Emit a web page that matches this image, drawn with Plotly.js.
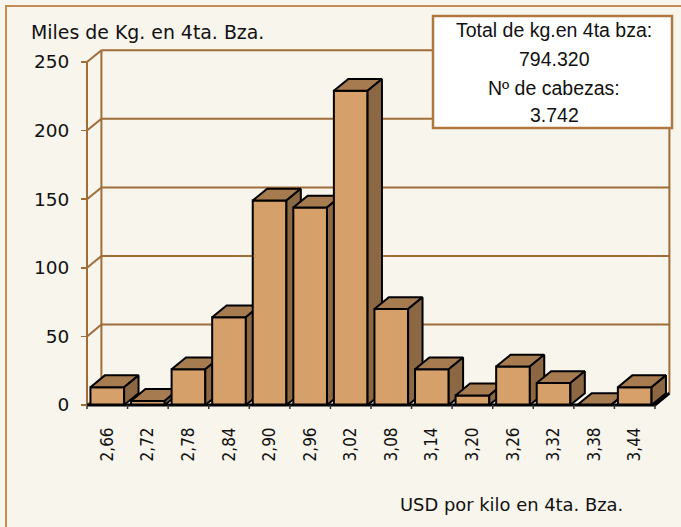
<!DOCTYPE html>
<html><head><meta charset="utf-8">
<script src="https://cdn.plot.ly/plotly-3.0.1.min.js"></script>
<style>html,body{margin:0;padding:0;background:#F8F5EC;} #chart{width:681px;height:527px;}</style>
</head><body><div id="chart"></div>
<script>
// ---- data ----
const categories = ['2,66','2,72','2,78','2,84','2,90','2,96','3,02','3,08','3,14','3,20','3,26','3,32','3,38','3,44'];
const values = [13, 3, 26, 64, 149, 144, 229, 70, 26, 7, 28, 16, 0, 13];
const yTickValues = [0, 50, 100, 150, 200, 250];
const yTitle = 'Miles de Kg. en 4ta. Bza.';
const xTitle = 'USD por kilo en 4ta. Bza.';
const infoLines = ['Total de kg.en 4ta bza:', '794.320', 'Nº de cabezas:', '3.742'];

// ---- geometry ----
const W = 681, H = 527;
const M = {l: 70, r: 1, t: 40, b: 107};
const plotW = W - M.l - M.r, plotH = H - M.t - M.b;
const catPx = 40.57, x0px = 107.3;
const unitPx = 1.372, zeroPx = 405;
const xRange = [(M.l - x0px) / catPx, (W - M.r - x0px) / catPx];
const yRange = [(zeroPx - (H - M.b)) / unitPx, (zeroPx - M.t) / unitPx];
const DX = 14.4 / catPx, DY = 11.8 / unitPx, HW = 0.415;
const px = x => (x - M.l) / plotW;
const py = y => (H - M.b - y) / plotH;

// ---- colours / fonts ----
const wall = '#A06C38', frontC = '#D6A06A', topC = '#A67B50', sideC = '#8B6843', edge = '#000000';
const fam = 'DejaVu Sans, Verdana, sans-serif';
const catFont = {family: 'DejaVu Sans Condensed, DejaVu Sans, sans-serif', size: 17, color: '#111'};
const yTickFont = {family: fam, size: 18.5, color: '#111'};

const traces = [];
const n = categories.length;
const L = -0.5, R = n - 0.5, topV = yTickValues[yTickValues.length - 1];

// walls
let gx = [], gy = [];
yTickValues.forEach(v => {
  if (v > 0) { gx.push(L + DX, R + DX, null); gy.push(v + DY, v + DY, null); }
  gx.push(L, L + DX, null); gy.push(v, v + DY, null);
});
gx.push(L, L, null, L + DX, L + DX, null, R + DX, R + DX, null);
gy.push(0, topV, null, DY, topV + DY, null, DY, topV + DY, null);
traces.push({x: gx, y: gy, mode: 'lines', line: {color: wall, width: 2}, hoverinfo: 'skip'});

// bars
values.forEach((v, i) => {
  const a = i - HW, b = i + HW;
  const st = {mode: 'lines', fill: 'toself', line: {color: edge, width: 2}, hoverinfo: 'skip'};
  traces.push(Object.assign({x: [a, b, b, a, a], y: [0, 0, v, v, 0], fillcolor: frontC}, st));
  traces.push(Object.assign({x: [a, b, b + DX, a + DX, a], y: [v, v, v + DY, v + DY, v], fillcolor: topC}, st));
  traces.push(Object.assign({x: [b, b + DX, b + DX, b, b], y: [0, DY, v + DY, v, 0], fillcolor: sideC}, st));
});

// floor front edge + boundary ticks
traces.push({x: [L, R, R + DX], y: [0, 0, DY], mode: 'lines', line: {color: edge, width: 3}, hoverinfo: 'skip'});
let tx = [], ty = [];
for (let k = 0; k <= n; k++) { tx.push(L + k, L + k, null); ty.push(0, -4 / unitPx, null); }
traces.push({x: tx, y: ty, mode: 'lines', line: {color: '#333', width: 1.5}, hoverinfo: 'skip'});

const infoY = [30, 59, 88, 115];
const annotations = [
  {text: yTitle, x: px(29), xanchor: 'left', y: py(32), yanchor: 'middle', font: {family: fam, size: 18.9, color: '#111'}},
  {text: xTitle, x: px(398), xanchor: 'left', y: py(505), yanchor: 'middle', font: {family: fam, size: 17.9, color: '#111'}}
].map(a => Object.assign(a, {xref: 'paper', yref: 'paper', showarrow: false}));
infoLines.forEach((t, k) => annotations.push({
  text: t, xref: 'paper', yref: 'paper', x: px(554), y: py(infoY[k]), xanchor: 'center', yanchor: 'middle',
  showarrow: false, font: {family: 'Liberation Sans, Arial, sans-serif', size: 19.5, color: '#111'}
}));

const layout = {
  width: W, height: H, margin: {l: M.l, r: M.r, t: M.t, b: M.b, pad: 0},
  paper_bgcolor: '#F8F5EC', plot_bgcolor: 'rgba(0,0,0,0)', showlegend: false,
  xaxis: {range: xRange, showgrid: false, zeroline: false, showline: false, tickmode: 'array',
    tickvals: categories.map((c, i) => i), ticktext: categories, tickangle: -90, ticks: '',
    ticklabelstandoff: 18, anchor: 'free', position: py(zeroPx), tickfont: catFont, fixedrange: true},
  yaxis: {range: yRange, showgrid: false, zeroline: false, showline: false, tickmode: 'array',
    tickvals: yTickValues, ticks: 'outside', ticklen: 6, tickwidth: 1.5, tickcolor: wall,
    anchor: 'free', position: px(87), ticklabelstandoff: 8, tickfont: yTickFont, fixedrange: true},
  shapes: [
    {type: 'rect', xref: 'paper', yref: 'paper', x0: px(6), x1: px(720), y0: py(560), y1: py(6),
      line: {color: '#C48B53', width: 2}, layer: 'below'},
    {type: 'rect', xref: 'paper', yref: 'paper', x0: px(433), x1: px(672), y0: py(128), y1: py(16),
      fillcolor: '#FFFFFF', line: {color: '#B07840', width: 2.5}, layer: 'above'}
  ],
  annotations: annotations
};
Plotly.newPlot('chart', traces, layout, {displayModeBar: false, staticPlot: true});
</script></body></html>
